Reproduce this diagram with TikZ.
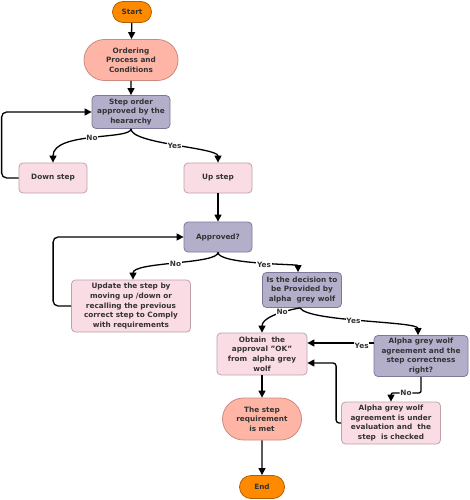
\documentclass[tikz,border=0pt]{standalone}
\usepackage{fontspec}
\setmainfont{DejaVu Sans}
\usepackage{tikz}
\usetikzlibrary{arrows.meta}
\usetikzlibrary{shapes}
\usetikzlibrary{positioning}

\definecolor{termfill}{HTML}{FF8A00}
\definecolor{termline}{HTML}{B35F00}
\definecolor{ovalfill}{HTML}{FFB5A5}
\definecolor{ovalline}{HTML}{C98B80}
\definecolor{qfill}{HTML}{B3AFCB}
\definecolor{qline}{HTML}{7D7898}
\definecolor{pfill}{HTML}{FADCE5}
\definecolor{pline}{HTML}{BFA2AA}
\definecolor{txt}{HTML}{333333}

\begin{document}
\begin{tikzpicture}[x=1pt, y=-1pt, font=\fontsize{7.3}{9.6}\selectfont\bfseries, text=txt]
  \tikzstyle{term}=[rounded rectangle, fill=termfill, draw=termline, line width=0.8pt, align=center, inner sep=1pt]
  \tikzstyle{oval}=[rounded rectangle, fill=ovalfill, draw=ovalline, line width=0.8pt, align=center, inner sep=1pt]
  \tikzstyle{qbox}=[rectangle, rounded corners=4pt, fill=qfill, draw=qline, line width=0.8pt, align=center, inner sep=1pt]
  \tikzstyle{pbox}=[rectangle, rounded corners=4pt, fill=pfill, draw=pline, line width=0.8pt, align=center, inner sep=1pt]
  \tikzstyle{arr}=[-{Triangle[width=7pt,length=7pt]}, line width=1.3pt, black]
  \tikzstyle{lbl}=[fill=white, inner sep=0.8pt, text=txt]

  \useasboundingbox (0,0) rectangle (470,500);

  \node (start) [term, minimum width=41, minimum height=21] at (132,12) {Start};
  \node (order) [oval, minimum width=96, minimum height=41] at (131,60) {Ordering\\Process and\\Conditions};
  \node (stepq) [qbox, minimum width=78, minimum height=33] at (131,112) {Step order\\approved by the\\heararchy};
  \node (down) [pbox, minimum width=68, minimum height=30] at (53,178) {Down step};
  \node (up) [pbox, minimum width=68, minimum height=30] at (218,178) {Up step};
  \node (appr) [qbox, minimum width=68, minimum height=30] at (218,237) {Approved?};
  \node (upd) [pbox, minimum width=119, minimum height=52] at (131,306) {Update the step by\\moving up /down or\\recalling the previous\\correct step to Comply\\with requirements};
  \node (dec) [qbox, minimum width=79, minimum height=35] at (302,290) {Is the decision to\\be Provided by\\alpha\ \ grey wolf};
  \node (obt) [pbox, minimum width=90, minimum height=42] at (262,354) {Obtain\ \ the\\approval "OK"\\from\ \ alpha grey\\wolf};
  \node (agree) [qbox, minimum width=94, minimum height=41] at (421,356) {Alpha grey wolf\\agreement and the\\step correctness\\right?};
  \node (eval) [pbox, minimum width=99, minimum height=42] at (391,423) {Alpha grey wolf\\agreement is under\\evaluation and\ \ the\\step\ \ is checked};
  \node (met) [oval, minimum width=81, minimum height=42] at (262,419) {The step\\requirement\\is met};
  \node (fin) [term, minimum width=47, minimum height=23] at (262,487) {End};

  \coordinate (obtA) at ([yshift=11pt]obt.east);
  \coordinate (obtB) at ([yshift=-9pt]obt.east);

  \draw[arr] (start) -- (order);
  \draw[arr] (order) -- (stepq);
  \draw[arr] (stepq.south) .. controls +(0,11) and +(0,-31) .. node[lbl]{No} (down.north);
  \draw[arr] (stepq.south) .. controls +(0,15) and +(0,-15) .. node[lbl]{Yes} (up.north);
  \draw[arr, rounded corners=5pt] (down.west) -- ++(-17,0) |- (stepq.west);
  \draw[arr] (up) -- (appr);
  \draw[arr] (appr.south) .. controls +(0,12) and +(0,-18) .. node[lbl]{No} ([xshift=2pt]upd.north);
  \draw[arr] (appr.south) .. controls +(0,12) and +(0,-8) .. node[lbl, pos=0.55]{Yes} ([xshift=-4pt]dec.north);
  \draw[arr, rounded corners=5pt] (upd.west) -- ++(-18,0) |- (appr.west);
  \draw[arr] ([xshift=-2pt]dec.south) .. controls +(-22,4) and +(0,-14) .. node[lbl, pos=0.3]{No} (obt.north);
  \draw[arr] ([xshift=-2pt]dec.south) .. controls +(8,14) and +(0,-14) .. node[lbl, pos=0.45]{Yes} ([xshift=-3pt]agree.north);
  \draw[arr] (obtA -| agree.west) -- node[lbl, pos=0.18, yshift=-3pt]{Yes} (obtA);
  \draw[arr, rounded corners=2pt] (agree.south) -- ++(0,16) -| node[lbl, pos=0.25]{No} (eval.north);
  \draw[arr, rounded corners=3pt] (eval.west) -- ++(-5,0) |- (obtB);
  \draw[arr] (obt) -- (met);
  \draw[arr] (met) -- (fin);
\end{tikzpicture}
\end{document}
